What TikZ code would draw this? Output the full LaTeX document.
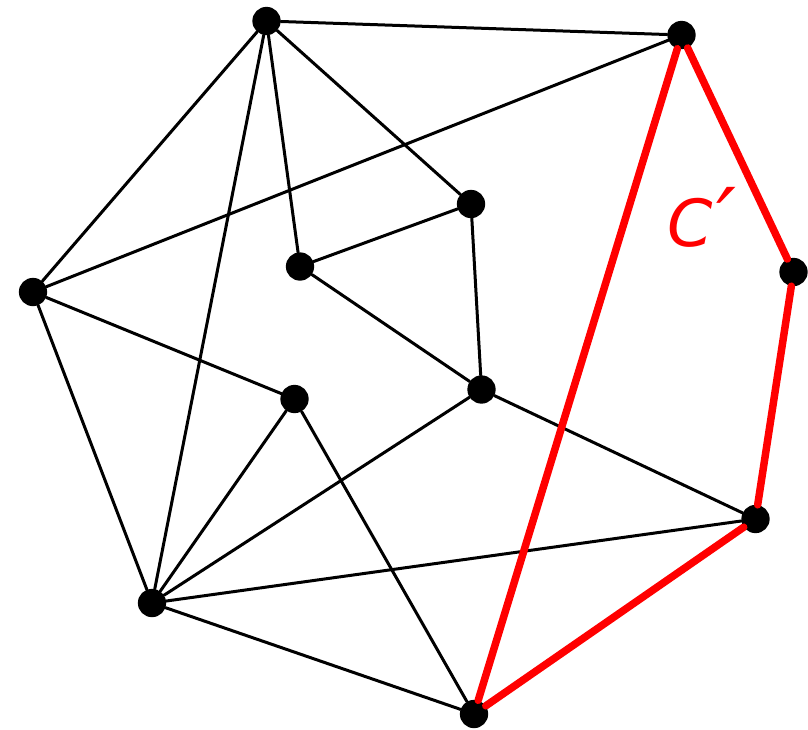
\documentclass[tikz,border=0pt]{standalone}
\usepackage{fontspec}
\newfontfamily\labelfont{DejaVu Sans}
\usepackage{tikz}

\tikzset{
  vertex/.style={circle, fill=black, inner sep=0pt, minimum size=28.3pt},
  edge/.style={line width=3pt},
  cycleedge/.style={line width=7.5pt, red}
}

\begin{document}
\begin{tikzpicture}[x=1pt, y=-1pt, line cap=round, line join=round]

  %% ==== vertices ====
  \node[vertex] (top)      at (266.5,21.0)  {};
  \node[vertex] (topright) at (681.5,35.0)  {};
  \node[vertex] (inner)    at (471.0,204.0) {};
  \node[vertex] (mid)      at (300.0,266.5) {};
  \node[vertex] (left)     at (33.0,292.0)  {};
  \node[vertex] (right)    at (793.5,272.0) {};
  \node[vertex] (centre)   at (481.5,389.5) {};
  \node[vertex] (low)      at (294.5,399.0) {};
  \node[vertex] (lowright) at (755.5,519.0) {};
  \node[vertex] (botleft)  at (152.0,603.0) {};
  \node[vertex] (bottom)   at (474.0,714.0) {};

  %% ==== black edges ====
  \draw[edge] (top) -- (topright);
  \draw[edge] (top) -- (left);
  \draw[edge] (top) -- (botleft);
  \draw[edge] (top) -- (mid);
  \draw[edge] (top) -- (inner);
  \draw[edge] (left) -- (topright);
  \draw[edge] (mid) -- (inner);
  \draw[edge] (inner) -- (centre);
  \draw[edge] (mid) -- (centre);
  \draw[edge] (left) -- (low);
  \draw[edge] (left) -- (botleft);
  \draw[edge] (low) -- (botleft);
  \draw[edge] (low) -- (bottom);
  \draw[edge] (centre) -- (botleft);
  \draw[edge] (centre) -- (lowright);
  \draw[edge] (botleft) -- (lowright);
  \draw[edge] (botleft) -- (bottom);

  %% ==== red cycle C' ====
  \draw[cycleedge] (topright) -- (right);
  \draw[cycleedge] (right) -- (lowright);
  \draw[cycleedge] (lowright) -- (bottom);
  \draw[cycleedge] (bottom) -- (topright);

  %% ==== label ====
  \node[anchor=base west, inner sep=0pt, text=red, font=\labelfont\itshape\fontsize{65}{72}\selectfont]
    (cyclelabel) at (667.0,246.0) {C\kern4pt\raisebox{-5pt}{\fontsize{88}{88}\selectfont′}};

  \pgfresetboundingbox
  \path[use as bounding box] (0,0) rectangle (808,729);
\end{tikzpicture}
\end{document}
